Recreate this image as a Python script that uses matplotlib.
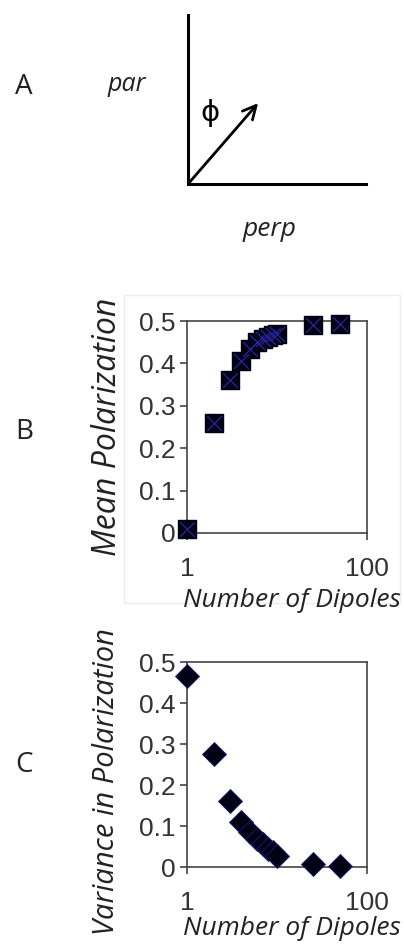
import numpy as np
import matplotlib
matplotlib.use("Agg")
import matplotlib.pyplot as plt
from matplotlib.patches import Rectangle

# number of dipoles and the two summary statistics
n_dipoles = [1, 2, 3, 4, 5, 6, 7, 8, 9, 10, 25, 50]
mean_pol = [0.01, 0.26, 0.36, 0.405, 0.435, 0.45, 0.458, 0.463, 0.467, 0.47, 0.49, 0.493]
var_pol = [0.465, 0.276, 0.161, 0.11, 0.085, 0.068, 0.055, 0.045, 0.036, 0.027, 0.008, 0.002]

y_ticks = [0, 0.1, 0.2, 0.3, 0.4, 0.5]
y_tick_labels = ["0", "0.1", "0.2", "0.3", "0.4", "0.5"]
x_ticks = [1, 100]
x_tick_labels = ["1", "100"]

W, H = 404, 947
fig = plt.figure(figsize=(W / 100, H / 100), dpi=100)

# overlay axes in pixel coords for the sketch, letters and axis titles
ov = fig.add_axes([0, 0, 1, 1])
ov.set_xlim(0, W)
ov.set_ylim(H, 0)
ov.axis("off")

label_font = "Open Sans"
tick_font = "Liberation Sans"

# panel A: the par/perp frame with the dipole arrow
ov.plot([188, 188, 366], [15, 184, 184], color="black", lw=2.2, solid_joinstyle="miter")
ov.annotate("", xy=(260, 101), xytext=(188, 184),
            arrowprops=dict(arrowstyle="->", lw=2.0, color="black", mutation_scale=24))
ov.text(24, 87, "A", fontsize=20, family=label_font, ha="center", va="center", color="#222222")
ov.text(127, 84, "par", fontsize=18, family=label_font, style="italic", ha="center", va="center",
        color="#222222")
ov.text(210, 113, "\u03d5", fontsize=21, family="DejaVu Sans", ha="center", va="center")
ov.text(270, 229, "perp", fontsize=19, family=label_font, style="italic", ha="center", va="center",
        color="#222222")

ov.text(24, 432, "B", fontsize=20, family=label_font, ha="center", va="center", color="#222222")
ov.text(24, 765, "C", fontsize=20, family=label_font, ha="center", va="center", color="#222222")

# axis titles
ov.text(292, 600, "Number of Dipoles", fontsize=19, family=label_font, style="italic",
        ha="center", va="center", color="#222222")
ov.text(292, 928, "Number of Dipoles", fontsize=19, family=label_font, style="italic",
        ha="center", va="center", color="#222222")
ov.text(107, 427, "Mean Polarization", fontsize=23, family=label_font, style="italic",
        rotation=90, ha="center", va="center", color="#222222")
ov.text(107, 782, "Variance in Polarization", fontsize=21, family=label_font, style="italic",
        rotation=90, ha="center", va="center", color="#222222")

# faint chart-area border around panel B
ov.add_patch(Rectangle((124, 295), 276, 308, fill=False, ec="#ececec", lw=1.0))


def style_axes(ax):
    ax.set_xscale("log")
    ax.set_xlim(1, 100)
    ax.set_ylim(0, 0.5)
    ax.set_xticks(x_ticks)
    ax.set_xticklabels(x_tick_labels)
    ax.minorticks_off()
    ax.set_yticks(y_ticks)
    ax.set_yticklabels(y_tick_labels)
    for s in ax.spines.values():
        s.set_color("#444444")
        s.set_linewidth(1.2)
    ax.tick_params(axis="both", direction="out", length=5, width=1.2, color="#444444",
                   labelsize=19, pad=3, labelcolor="#333333")
    ax.tick_params(axis="x", pad=12)
    for t in ax.get_xticklabels() + ax.get_yticklabels():
        t.set_family(tick_font)


axB = fig.add_axes([187 / W, 414 / H, 180 / W, 212 / H])
axB.scatter(n_dipoles, mean_pol, marker="s", s=165, color="#020214", zorder=4, clip_on=False)
axB.scatter(n_dipoles, mean_pol, marker="x", s=110, color="#2a2ab0", lw=0.8, zorder=5, clip_on=False)
style_axes(axB)

axC = fig.add_axes([187 / W, 80 / H, 180 / W, 205 / H])
axC.scatter(n_dipoles, var_pol, marker="D", s=150, color="#020214", edgecolor="#1a1a80",
            lw=0.6, zorder=4, clip_on=False)
style_axes(axC)

fig.savefig("out.png", dpi=100)
